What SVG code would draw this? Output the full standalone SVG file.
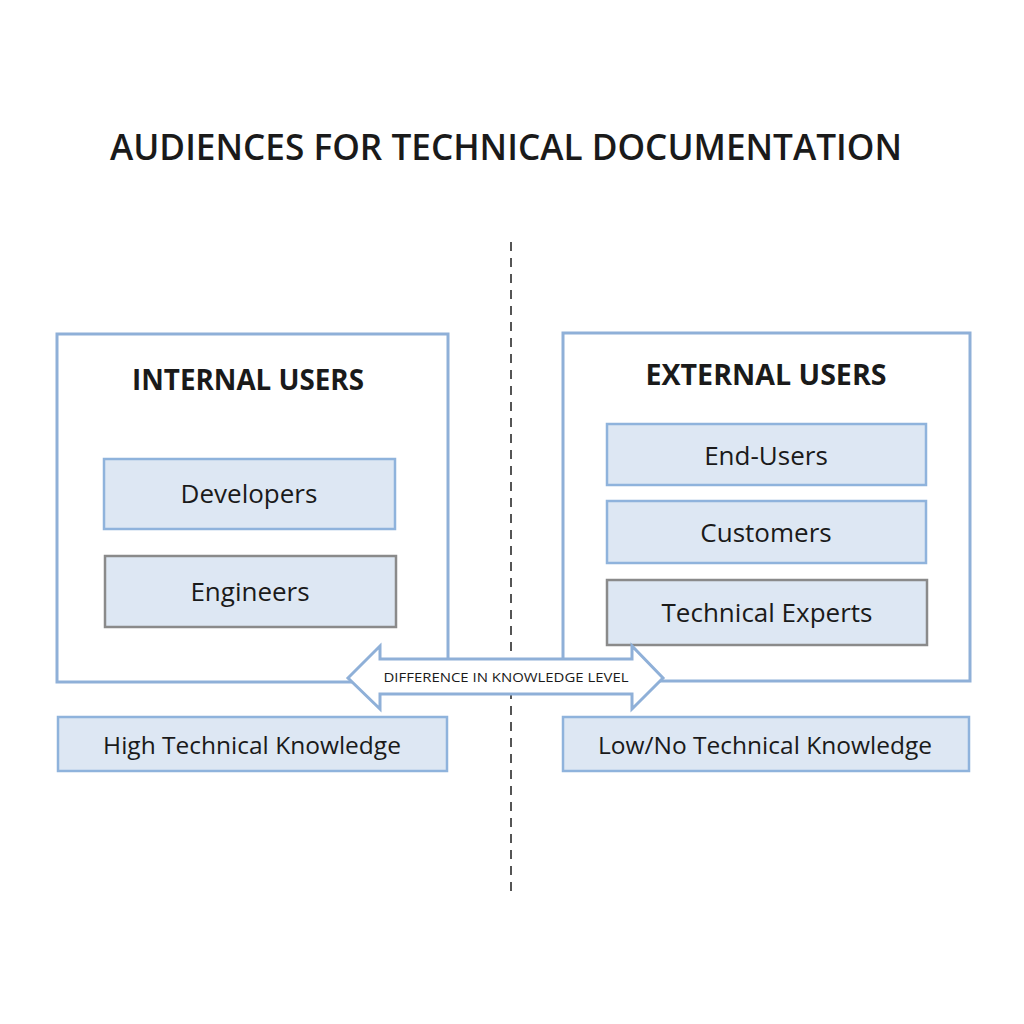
<svg xmlns="http://www.w3.org/2000/svg" width="1024" height="1024" viewBox="0 0 1024 1024">
<style>
text{font-family:"Open Sans","Liberation Sans",sans-serif;fill:#1a1a1a;text-anchor:middle}
.outer{fill:#fff;stroke:#8fb0d8;stroke-width:3}
.item{fill:#dde7f3;stroke:#8fb3dc;stroke-width:2.5}
.gray{fill:#dde7f3;stroke:#8a8a8a;stroke-width:2.5}
.hdr{font-weight:bold;font-size:28px}
.lbl{font-size:26px}
.kn{font-size:24.5px}
</style>
<rect width="1024" height="1024" fill="#fff"/>
<text x="506" y="160" font-size="36" font-weight="600" textLength="792" lengthAdjust="spacingAndGlyphs">AUDIENCES FOR TECHNICAL DOCUMENTATION</text>
<g id="connectors">
<line x1="511" y1="242" x2="511" y2="895" stroke="#555" stroke-width="2" stroke-dasharray="9,7"/>
</g>
<g id="internal">
<rect class="outer" x="57" y="334" width="391" height="348"/>
<text class="hdr" x="248" y="390" textLength="232" lengthAdjust="spacingAndGlyphs">INTERNAL USERS</text>
</g>
<g id="developers"><rect class="item" x="104" y="459" width="291" height="70"/><text class="lbl" x="249" y="503">Developers</text></g>
<g id="engineers"><rect class="gray" x="105" y="556" width="291" height="71"/><text class="lbl" x="250" y="601">Engineers</text></g>
<g id="external">
<rect class="outer" x="563" y="333" width="407" height="348"/>
<text class="hdr" x="766" y="385" textLength="241" lengthAdjust="spacingAndGlyphs">EXTERNAL USERS</text>
</g>
<g id="endusers"><rect class="item" x="607" y="424" width="319" height="61"/><text class="lbl" x="766" y="465">End-Users</text></g>
<g id="customers"><rect class="item" x="607" y="501" width="319" height="62"/><text class="lbl" x="766" y="542">Customers</text></g>
<g id="experts"><rect class="gray" x="607" y="580" width="320" height="65"/><text class="lbl" x="767" y="622">Technical Experts</text></g>
<g id="high"><rect class="item" x="58" y="717" width="389" height="54"/><text class="kn" x="252" y="754">High Technical Knowledge</text></g>
<g id="low"><rect class="item" x="563" y="717" width="406" height="54"/><text class="kn" x="765" y="754">Low/No Technical Knowledge</text></g>
<g id="difference">
<polygon points="348,678 380,646 380,659 632,659 632,646 663,678 632,709 632,694 380,694 380,709" fill="#fff" stroke="#8fb0d8" stroke-width="3" stroke-linejoin="miter"/>
<text x="506" y="682" font-size="13" textLength="245" lengthAdjust="spacingAndGlyphs">DIFFERENCE IN KNOWLEDGE LEVEL</text>
</g>
</svg>
